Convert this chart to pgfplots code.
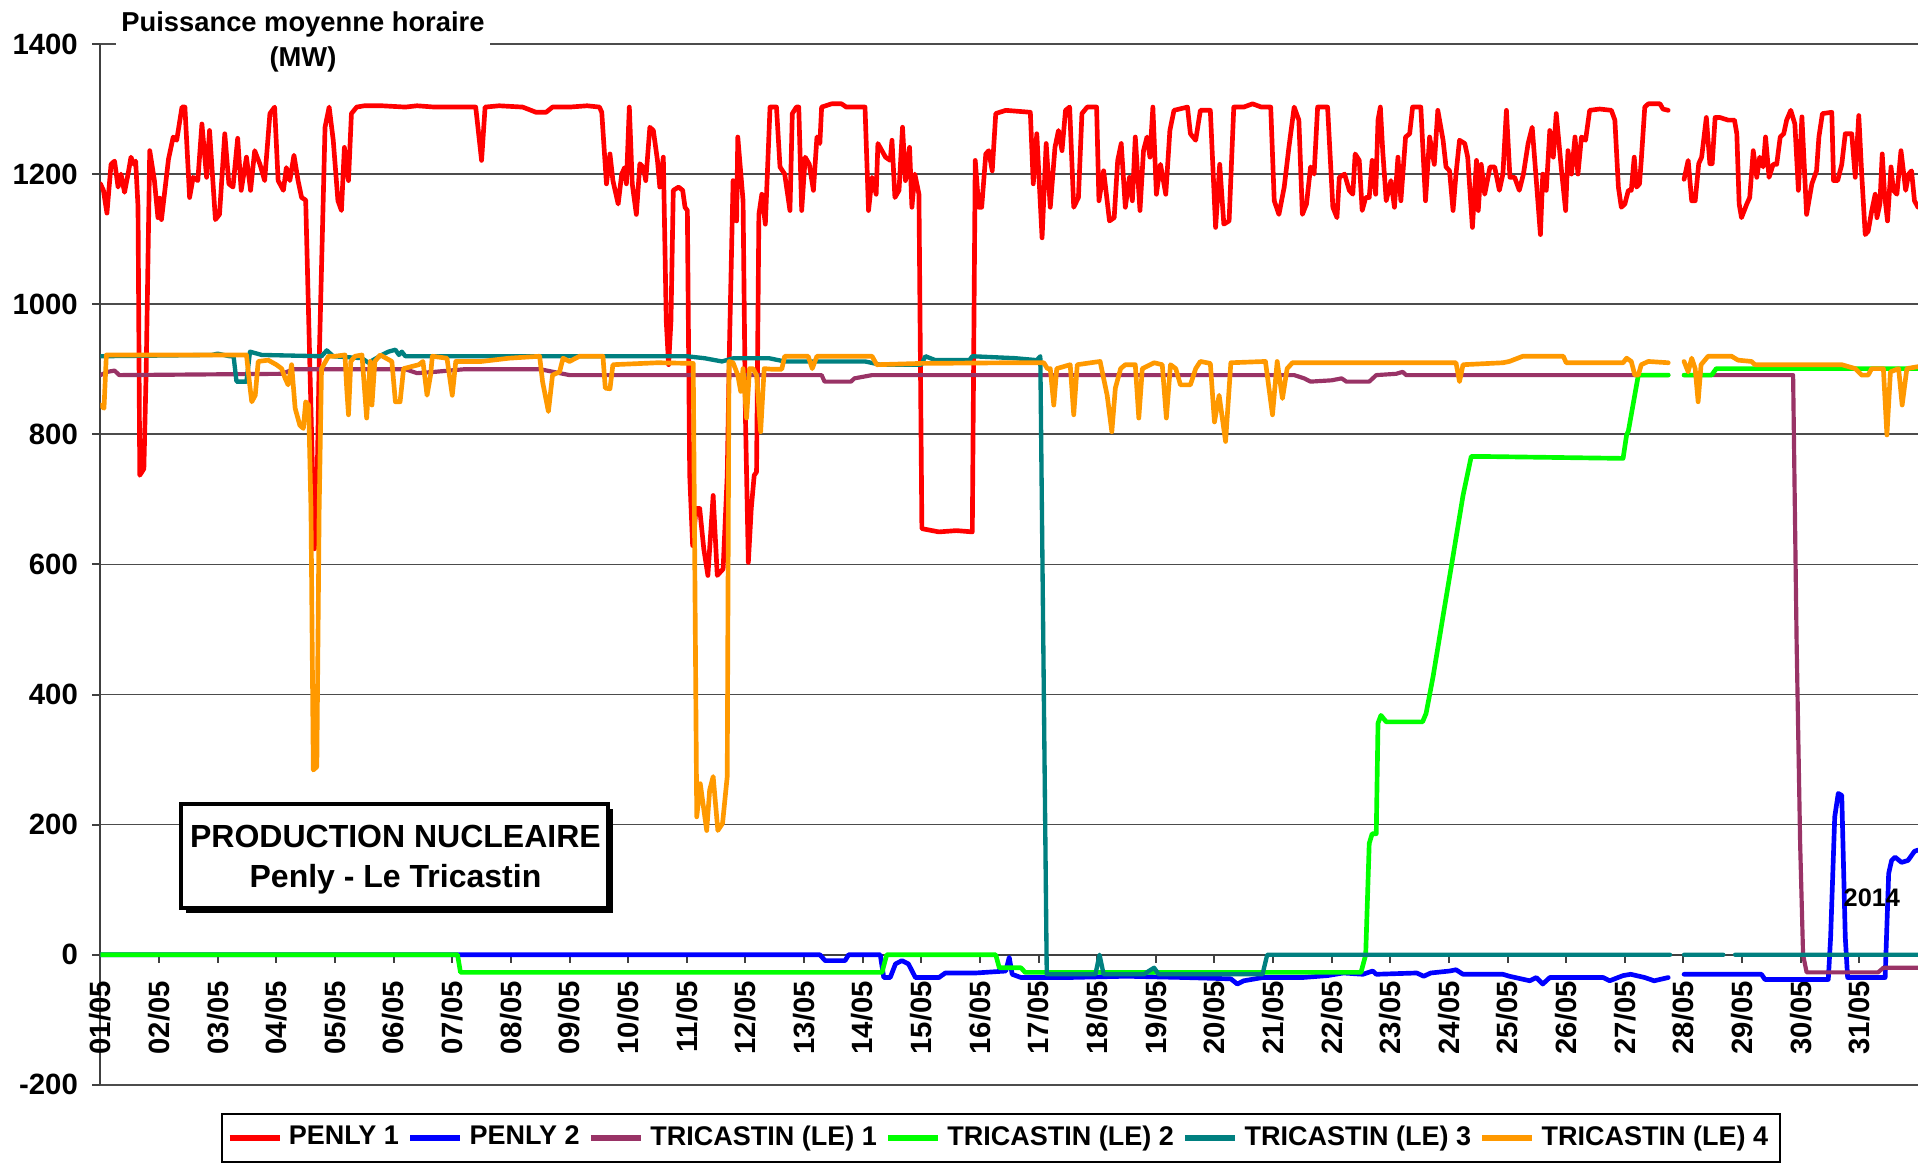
\documentclass[border=0pt]{standalone}
\usepackage{fontspec}
\setmainfont{Liberation Sans}
\usepackage{pgfplots}
\pgfplotsset{compat=1.18}
\definecolor{cRed}{HTML}{FF0000}
\definecolor{cBlue}{HTML}{0000FF}
\definecolor{cPurple}{HTML}{993366}
\definecolor{cGreen}{HTML}{00FF00}
\definecolor{cTeal}{HTML}{008080}
\definecolor{cOrange}{HTML}{FF9900}
\newcommand{\tickfont}{\bfseries\fontsize{8.8}{10}\selectfont}
\begin{document}
\begin{tikzpicture}
\path[use as bounding box] (-30.15pt,-24pt) rectangle (546.5pt,325.5pt);
\begin{axis}[
 at={(0,0)}, anchor=south west, scale only axis,
 width=545.3pt, height=312.3pt,
 xmin=0, xmax=31, ymin=-200, ymax=1400,
 axis x line=middle, axis y line=left,
 hide obscured x ticks=false, hide obscured y ticks=false,
 x axis line style={-, draw=black!75, line width=0.6pt},
 y axis line style={-, draw=black!75, line width=0.6pt},
 xtick={0,...,30},
 xticklabels={01/05,02/05,03/05,04/05,05/05,06/05,07/05,08/05,09/05,10/05,11/05,12/05,13/05,14/05,15/05,16/05,17/05,18/05,19/05,20/05,21/05,22/05,23/05,24/05,25/05,26/05,27/05,28/05,29/05,30/05,31/05},
 ytick={-200,0,200,400,600,800,1000,1200,1400},
 yticklabels={-200,0,200,400,600,800,1000,1200,1400},
 tick align=outside, major tick length=2.4pt,
 tick style={draw=black!75, line width=0.6pt},
 ymajorgrids, grid style={draw=black!70, line width=0.5pt},
 xticklabel style={rotate=90, anchor=east, font=\tickfont, inner sep=1pt},
 xticklabel shift=4.3pt,
 yticklabel style={font=\tickfont, inner sep=1pt, xshift=-3.2pt},
 unbounded coords=jump,
 every axis plot/.append style={line join=round, line cap=round},
 legend columns=6,
 legend style={at={(0.4954,-0.051)}, anchor=center, draw=black, line width=0.5pt,
   font=\bfseries\fontsize{8.1}{9}\selectfont, inner sep=1.5pt,
   /tikz/every even column/.append style={column sep=0.6pt}},
 legend image code/.code={\draw[#1, line width=1.6pt, line cap=butt] (0pt,0pt) -- (15pt,0pt);},
]
% PENLY 1
\addplot[cRed, line width=1.4pt] table[row sep=\\] {x y\\
0 1185\\ 0.05 1175\\ 0.11 1140\\ 0.18 1215\\ 0.24 1220\\ 0.30 1180\\ 0.35 1200\\ 0.41 1172\\ 0.47 1200\\ 0.52 1226\\ 0.57 1215\\ 0.60 1220\\ 0.64 1150\\ 0.67 737\\ 0.74 747\\ 0.78 900\\ 0.84 1236\\ 0.92 1190\\ 0.98 1133\\ 1.01 1163\\ 1.04 1130\\ 1.16 1223\\ 1.24 1257\\ 1.30 1252\\ 1.39 1303\\ 1.44 1303\\ 1.52 1164\\ 1.58 1195\\ 1.66 1190\\ 1.73 1277\\ 1.81 1195\\ 1.86 1267\\ 1.96 1130\\ 2.03 1138\\ 2.12 1262\\ 2.19 1185\\ 2.26 1180\\ 2.34 1255\\ 2.40 1175\\ 2.49 1226\\ 2.56 1175\\ 2.63 1236\\ 2.72 1215\\ 2.80 1190\\ 2.89 1293\\ 2.97 1303\\ 3.03 1190\\ 3.12 1175\\ 3.17 1210\\ 3.23 1190\\ 3.30 1229\\ 3.37 1190\\ 3.43 1164\\ 3.50 1160\\ 3.65 624\\ 3.69 700\\ 3.73 912\\ 3.83 1272\\ 3.90 1303\\ 3.97 1252\\ 4.05 1159\\ 4.11 1144\\ 4.16 1241\\ 4.23 1190\\ 4.28 1293\\ 4.37 1303\\ 4.5 1305\\ 4.8 1305\\ 5.2 1303\\ 5.4 1305\\ 5.7 1303\\ 6.0 1303\\ 6.40 1303\\ 6.50 1221\\ 6.56 1303\\ 6.8 1305\\ 7.2 1303\\ 7.43 1295\\ 7.6 1295\\ 7.71 1303\\ 8.0 1303\\ 8.3 1305\\ 8.51 1303\\ 8.55 1295\\ 8.63 1185\\ 8.69 1231\\ 8.74 1190\\ 8.83 1154\\ 8.89 1200\\ 8.94 1210\\ 8.97 1185\\ 9.02 1303\\ 9.07 1185\\ 9.14 1138\\ 9.20 1216\\ 9.26 1210\\ 9.30 1190\\ 9.37 1272\\ 9.43 1267\\ 9.50 1221\\ 9.54 1180\\ 9.60 1226\\ 9.65 974\\ 9.69 907\\ 9.73 974\\ 9.77 1175\\ 9.86 1180\\ 9.93 1175\\ 9.97 1149\\ 10.01 1144\\ 10.05 737\\ 10.10 629\\ 10.16 686\\ 10.22 686\\ 10.29 624\\ 10.36 583\\ 10.45 706\\ 10.52 583\\ 10.62 593\\ 10.69 737\\ 10.73 943\\ 10.79 1190\\ 10.85 1128\\ 10.87 1257\\ 10.96 1159\\ 11.00 830\\ 11.05 603\\ 11.10 686\\ 11.15 737\\ 11.19 742\\ 11.23 1138\\ 11.28 1169\\ 11.34 1123\\ 11.42 1303\\ 11.53 1303\\ 11.59 1211\\ 11.67 1200\\ 11.76 1144\\ 11.80 1293\\ 11.87 1303\\ 11.91 1303\\ 11.96 1144\\ 12.02 1226\\ 12.09 1215\\ 12.16 1175\\ 12.22 1257\\ 12.27 1247\\ 12.30 1303\\ 12.47 1308\\ 12.64 1308\\ 12.72 1303\\ 13.04 1303\\ 13.10 1144\\ 13.16 1195\\ 13.23 1169\\ 13.26 1247\\ 13.39 1226\\ 13.47 1221\\ 13.50 1252\\ 13.55 1164\\ 13.62 1175\\ 13.68 1272\\ 13.73 1190\\ 13.80 1241\\ 13.84 1149\\ 13.89 1200\\ 13.96 1169\\ 14.01 655\\ 14.30 650\\ 14.6 652\\ 14.87 650\\ 14.92 1221\\ 14.98 1149\\ 15.03 1149\\ 15.10 1231\\ 15.15 1236\\ 15.21 1205\\ 15.27 1293\\ 15.44 1298\\ 15.86 1295\\ 15.91 1185\\ 15.97 1262\\ 16.06 1102\\ 16.13 1247\\ 16.20 1149\\ 16.28 1241\\ 16.34 1267\\ 16.40 1236\\ 16.46 1298\\ 16.53 1303\\ 16.60 1149\\ 16.68 1164\\ 16.74 1293\\ 16.83 1303\\ 16.99 1303\\ 17.03 1159\\ 17.11 1205\\ 17.21 1128\\ 17.29 1133\\ 17.35 1221\\ 17.41 1247\\ 17.48 1149\\ 17.55 1195\\ 17.60 1159\\ 17.65 1257\\ 17.73 1144\\ 17.79 1236\\ 17.85 1257\\ 17.90 1226\\ 17.95 1303\\ 18.01 1169\\ 18.08 1215\\ 18.17 1169\\ 18.24 1267\\ 18.31 1298\\ 18.54 1303\\ 18.59 1262\\ 18.68 1252\\ 18.76 1298\\ 18.93 1298\\ 19.02 1118\\ 19.09 1215\\ 19.16 1123\\ 19.25 1128\\ 19.33 1303\\ 19.50 1303\\ 19.65 1308\\ 19.80 1303\\ 19.96 1303\\ 20.02 1159\\ 20.10 1138\\ 20.19 1180\\ 20.27 1241\\ 20.36 1303\\ 20.44 1283\\ 20.50 1138\\ 20.57 1154\\ 20.64 1211\\ 20.70 1200\\ 20.76 1303\\ 20.93 1303\\ 21.02 1149\\ 21.09 1133\\ 21.13 1195\\ 21.22 1200\\ 21.30 1175\\ 21.36 1169\\ 21.40 1231\\ 21.47 1221\\ 21.52 1144\\ 21.58 1164\\ 21.64 1164\\ 21.69 1221\\ 21.75 1169\\ 21.79 1283\\ 21.83 1303\\ 21.87 1236\\ 21.93 1159\\ 22.01 1190\\ 22.07 1149\\ 22.13 1226\\ 22.18 1159\\ 22.26 1257\\ 22.33 1262\\ 22.38 1303\\ 22.52 1303\\ 22.60 1159\\ 22.67 1257\\ 22.75 1215\\ 22.81 1298\\ 22.90 1252\\ 22.95 1211\\ 23.01 1205\\ 23.07 1144\\ 23.12 1200\\ 23.18 1252\\ 23.27 1247\\ 23.32 1226\\ 23.40 1118\\ 23.47 1221\\ 23.50 1144\\ 23.55 1215\\ 23.61 1169\\ 23.70 1211\\ 23.78 1211\\ 23.86 1175\\ 23.92 1200\\ 23.98 1298\\ 24.04 1195\\ 24.12 1195\\ 24.20 1175\\ 24.27 1200\\ 24.35 1247\\ 24.42 1272\\ 24.49 1190\\ 24.56 1107\\ 24.60 1200\\ 24.66 1175\\ 24.72 1267\\ 24.78 1226\\ 24.83 1293\\ 24.92 1205\\ 24.99 1144\\ 25.03 1236\\ 25.09 1200\\ 25.15 1257\\ 25.20 1200\\ 25.26 1257\\ 25.33 1252\\ 25.40 1298\\ 25.57 1300\\ 25.77 1298\\ 25.83 1283\\ 25.89 1180\\ 25.94 1149\\ 26.00 1154\\ 26.06 1175\\ 26.11 1175\\ 26.16 1226\\ 26.20 1180\\ 26.25 1185\\ 26.28 1221\\ 26.34 1303\\ 26.40 1308\\ 26.60 1308\\ 26.65 1300\\ 26.74 1298\\ 26.88 nan\\ 27.01 1192\\ 27.08 1221\\ 27.14 1159\\ 27.20 1159\\ 27.26 1216\\ 27.31 1226\\ 27.39 1287\\ 27.45 1216\\ 27.49 1216\\ 27.54 1287\\ 27.62 1287\\ 27.76 1283\\ 27.87 1283\\ 27.91 1262\\ 27.95 1154\\ 27.99 1133\\ 28.08 1154\\ 28.13 1164\\ 28.19 1236\\ 28.25 1195\\ 28.30 1226\\ 28.36 1211\\ 28.40 1257\\ 28.46 1195\\ 28.53 1215\\ 28.59 1215\\ 28.65 1257\\ 28.71 1262\\ 28.76 1283\\ 28.83 1298\\ 28.90 1277\\ 28.96 1175\\ 29.02 1288\\ 29.10 1138\\ 29.19 1185\\ 29.27 1205\\ 29.31 1257\\ 29.37 1293\\ 29.53 1295\\ 29.56 1190\\ 29.63 1190\\ 29.70 1215\\ 29.76 1262\\ 29.87 1262\\ 29.93 1195\\ 29.99 1290\\ 30.04 1200\\ 30.10 1107\\ 30.15 1112\\ 30.21 1143\\ 30.27 1169\\ 30.30 1133\\ 30.35 1154\\ 30.39 1231\\ 30.43 1169\\ 30.48 1128\\ 30.54 1211\\ 30.58 1175\\ 30.64 1169\\ 30.71 1236\\ 30.79 1175\\ 30.84 1200\\ 30.89 1205\\ 30.94 1159\\ 31.00 1149\\
};
\addlegendentry{PENLY 1}
% PENLY 2
\addplot[cBlue, line width=1.4pt] table[row sep=\\] {x y\\
0 0\\ 6.1 0\\ 12.27 0\\ 12.36 -9\\ 12.70 -9\\ 12.76 0\\ 13.30 0\\ 13.36 -35\\ 13.47 -35\\ 13.56 -14\\ 13.67 -9\\ 13.78 -14\\ 13.90 -35\\ 14.30 -35\\ 14.41 -28\\ 14.93 -28\\ 15.44 -25\\ 15.50 -4\\ 15.55 -30\\ 15.7 -35\\ 16.5 -35\\ 17.5 -33\\ 18.5 -35\\ 19.28 -37\\ 19.39 -45\\ 19.50 -40\\ 19.82 -35\\ 20.5 -35\\ 20.93 -32\\ 21.2 -28\\ 21.53 -30\\ 21.70 -25\\ 21.76 -30\\ 22.45 -28\\ 22.57 -33\\ 22.69 -28\\ 23.01 -25\\ 23.12 -23\\ 23.24 -30\\ 23.92 -30\\ 24.03 -33\\ 24.38 -40\\ 24.49 -35\\ 24.60 -45\\ 24.72 -35\\ 25.63 -35\\ 25.74 -40\\ 25.97 -32\\ 26.1 -30\\ 26.34 -35\\ 26.50 -40\\ 26.74 -35\\ 26.88 nan\\ 27.01 -30\\ 28.33 -30\\ 28.39 -38\\ 29.47 -38\\ 29.51 27\\ 29.58 212\\ 29.64 248\\ 29.70 245\\ 29.76 27\\ 29.80 -35\\ 30.44 -35\\ 30.50 125\\ 30.55 145\\ 30.61 150\\ 30.72 142\\ 30.83 145\\ 30.94 159\\ 31.00 161\\
};
\addlegendentry{PENLY 2}
% TRICASTIN 1
\addplot[cPurple, line width=1.25pt] table[row sep=\\] {x y\\
0 891\\ 0.12 896\\ 0.24 898\\ 0.32 891\\ 3.09 893\\ 3.30 900\\ 5.2 900\\ 5.4 894\\ 5.7 896\\ 6.2 900\\ 7.5 900\\ 8.0 891\\ 12.30 891\\ 12.35 881\\ 12.80 881\\ 12.86 886\\ 13.04 889\\ 13.16 891\\ 20.36 891\\ 20.53 886\\ 20.64 881\\ 21.0 883\\ 21.17 886\\ 21.25 881\\ 21.64 881\\ 21.76 891\\ 22.1 893\\ 22.21 896\\ 22.27 891\\ 26.74 891\\ 26.88 nan\\ 27.01 891\\ 28.87 891\\ 28.93 480\\ 28.99 171\\ 29.04 0\\ 29.10 -27\\ 30.32 -27\\ 30.41 -20\\ 31.0 -20\\
};
\addlegendentry{TRICASTIN (LE) 1}
% TRICASTIN 2
\addplot[cGreen, line width=1.4pt] table[row sep=\\] {x y\\
0 0\\ 6.09 0\\ 6.14 -27\\ 13.33 -27\\ 13.41 0\\ 15.27 0\\ 15.33 -20\\ 15.70 -20\\ 15.77 -27\\ 21.50 -27\\ 21.58 0\\ 21.64 171\\ 21.69 186\\ 21.76 186\\ 21.79 356\\ 21.84 368\\ 21.93 358\\ 22.21 358\\ 22.55 358\\ 22.61 371\\ 22.73 428\\ 22.90 521\\ 23.07 613\\ 23.24 706\\ 23.38 766\\ 23.52 766\\ 25.97 763\\ 26.03 799\\ 26.06 805\\ 26.23 891\\ 26.74 891\\ 26.88 nan\\ 27.01 891\\ 27.48 891\\ 27.56 901\\ 31.0 901\\
};
\addlegendentry{TRICASTIN (LE) 2}
% TRICASTIN 3
\addplot[cTeal, line width=1.3pt] table[row sep=\\] {x y\\
0 920\\ 1.9 922\\ 2.0 924\\ 2.2 920\\ 2.27 920\\ 2.32 881\\ 2.49 881\\ 2.55 927\\ 2.75 922\\ 3.77 920\\ 3.86 929\\ 3.97 920\\ 4.46 917\\ 4.57 910\\ 4.80 922\\ 4.91 927\\ 5.03 930\\ 5.09 922\\ 5.14 927\\ 5.2 920\\ 8.0 920\\ 10.0 920\\ 10.3 917\\ 10.6 912\\ 10.8 917\\ 11.4 917\\ 11.67 912\\ 13.04 912\\ 13.3 907\\ 14.0 907\\ 14.07 920\\ 14.24 914\\ 14.82 914\\ 14.87 920\\ 15.6 917\\ 15.97 914\\ 16.03 920\\ 16.14 -30\\ 16.97 -30\\ 17.04 0\\ 17.11 -30\\ 17.80 -30\\ 17.88 -25\\ 17.97 -20\\ 18.05 -30\\ 19.82 -30\\ 19.90 0\\ 26.77 0\\ 26.88 nan\\ 27.01 0\\ 27.68 0\\ 27.78 nan\\ 27.88 0\\ 31.0 0\\
};
\addlegendentry{TRICASTIN (LE) 3}
% TRICASTIN 4
\addplot[cOrange, line width=1.4pt] table[row sep=\\] {x y\\
0 845\\ 0.06 840\\ 0.10 922\\ 2.49 922\\ 2.54 880\\ 2.58 850\\ 2.64 860\\ 2.69 912\\ 2.86 914\\ 3.0 907\\ 3.09 901\\ 3.15 886\\ 3.20 876\\ 3.26 907\\ 3.32 840\\ 3.40 814\\ 3.46 809\\ 3.50 850\\ 3.55 845\\ 3.59 686\\ 3.63 284\\ 3.69 289\\ 3.73 686\\ 3.77 901\\ 3.89 920\\ 4.0 920\\ 4.17 922\\ 4.20 870\\ 4.23 830\\ 4.27 912\\ 4.34 920\\ 4.46 922\\ 4.54 825\\ 4.60 912\\ 4.63 845\\ 4.68 912\\ 4.77 922\\ 4.97 912\\ 5.03 850\\ 5.11 850\\ 5.17 901\\ 5.43 907\\ 5.50 912\\ 5.57 860\\ 5.63 891\\ 5.66 920\\ 5.91 917\\ 6.00 860\\ 6.06 912\\ 6.5 912\\ 6.97 917\\ 7.49 920\\ 7.54 881\\ 7.64 835\\ 7.71 891\\ 7.83 896\\ 7.89 917\\ 8.0 912\\ 8.17 920\\ 8.57 920\\ 8.61 871\\ 8.69 870\\ 8.74 907\\ 9.5 910\\ 10.11 909\\ 10.17 212\\ 10.23 263\\ 10.34 191\\ 10.39 253\\ 10.45 274\\ 10.53 191\\ 10.61 202\\ 10.69 274\\ 10.72 912\\ 10.79 910\\ 10.87 891\\ 10.92 866\\ 10.96 901\\ 11.02 825\\ 11.07 901\\ 11.13 901\\ 11.19 891\\ 11.26 804\\ 11.32 901\\ 11.45 900\\ 11.62 900\\ 11.67 920\\ 12.07 920\\ 12.14 901\\ 12.22 920\\ 13.16 920\\ 13.24 907\\ 14.0 909\\ 15.52 910\\ 16.09 910\\ 16.15 901\\ 16.20 901\\ 16.26 845\\ 16.31 901\\ 16.54 907\\ 16.60 830\\ 16.66 907\\ 17.05 912\\ 17.17 860\\ 17.25 804\\ 17.31 871\\ 17.40 901\\ 17.48 907\\ 17.65 907\\ 17.71 825\\ 17.77 901\\ 17.97 910\\ 18.11 907\\ 18.18 825\\ 18.25 907\\ 18.34 901\\ 18.42 876\\ 18.59 876\\ 18.68 901\\ 18.76 912\\ 18.93 909\\ 19.00 819\\ 19.08 860\\ 19.19 789\\ 19.28 910\\ 19.87 912\\ 19.99 830\\ 20.07 912\\ 20.16 855\\ 20.24 901\\ 20.33 910\\ 23.12 910\\ 23.18 881\\ 23.24 907\\ 23.92 910\\ 24.03 912\\ 24.26 920\\ 24.95 920\\ 25.00 910\\ 25.97 910\\ 26.03 917\\ 26.11 912\\ 26.17 891\\ 26.23 891\\ 26.28 907\\ 26.40 912\\ 26.74 910\\ 26.88 nan\\ 27.01 912\\ 27.08 896\\ 27.14 917\\ 27.20 901\\ 27.25 850\\ 27.30 907\\ 27.42 920\\ 27.82 920\\ 27.93 914\\ 28.16 912\\ 28.22 907\\ 29.70 907\\ 29.93 901\\ 30.04 891\\ 30.15 891\\ 30.21 901\\ 30.41 901\\ 30.47 799\\ 30.53 896\\ 30.67 901\\ 30.73 845\\ 30.81 901\\ 31.0 904\\
};
\addlegendentry{TRICASTIN (LE) 4}
\end{axis}
% Y axis title
\node[fill=white, inner sep=1pt, minimum width=112pt, align=center,
      font=\bfseries\fontsize{8.2}{10.5}\selectfont] at (60.75pt,313pt)
      {Puissance moyenne horaire\\(MW)};
% box
\fill[black] (25.7pt,51.6pt) rectangle (153.8pt,82.8pt);
\draw[line width=1pt, fill=white] (24.2pt,53.1pt) rectangle (152.3pt,84.3pt);
\node[font=\bfseries\fontsize{9.6}{12}\selectfont, align=center] at (88.5pt,67.6pt)
      {PRODUCTION NUCLEAIRE\\Penly - Le Tricastin};
\node[font=\bfseries\fontsize{7.6}{9}\selectfont] at (531.45pt,56.1pt) {2014};
\end{tikzpicture}
\end{document}
